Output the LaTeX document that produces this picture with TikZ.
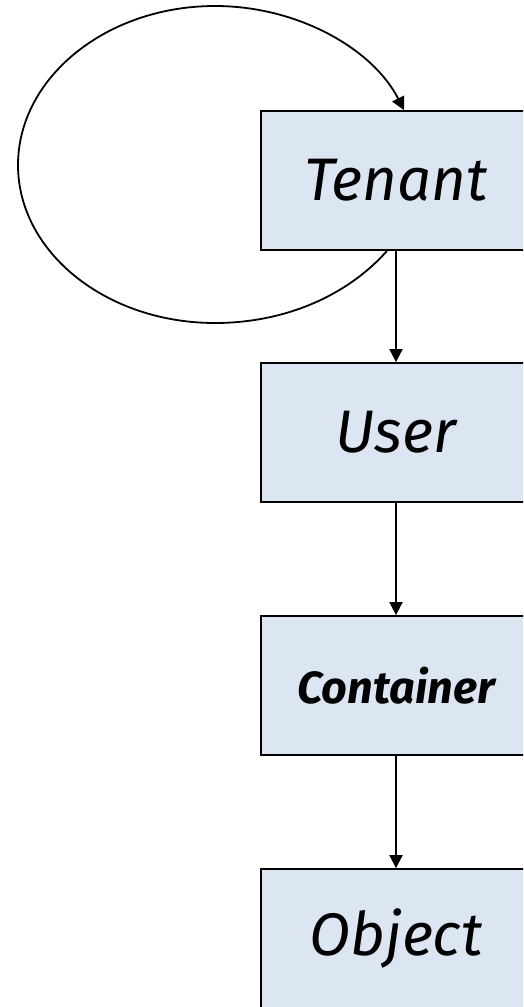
\documentclass[tikz,border=0pt]{standalone}
\usepackage{fontspec}
\setmainfont{Fira Sans}
\usetikzlibrary{arrows.meta}
\definecolor{boxfill}{HTML}{DCE6F2}
\tikzset{
  entity/.style={draw=black, line width=1.8pt, fill=boxfill, minimum width=270pt, minimum height=139pt, inner sep=0pt, font=\fontsize{60}{62}\selectfont\itshape},
  link/.style={line width=1.8pt, -{Triangle[width=13pt,length=13pt]}}
}
\begin{document}
\begin{tikzpicture}[x=1pt,y=1pt]
\useasboundingbox (0,0) rectangle (523,-1007);
\begin{scope}
\clip (0,0) rectangle (523,-1007);
\node[entity] (tenant) at (396,-180.5) {Tenant};
\node[entity] (user) at (396,-432.5) {User};
\node[entity, font=\fontsize{45}{48}\selectfont\bfseries\itshape] (container) at (396,-685.5) {Container};
\node[entity] (object) at (396,-938.5) {Object};
\draw[link] (tenant) -- (user);
\draw[link] (user) -- (container);
\draw[link] (container) -- (object);
\draw[link] ([xshift=-9pt]tenant.south) .. controls (346,-297) and (283,-323) .. (215,-323)
  .. controls (106,-323) and (18,-252) .. (18,-165)
  .. controls (18,-78) and (106,-6) .. (215,-6)
  .. controls (298,-6) and (373,-49) .. ([xshift=8pt]tenant.north);
\end{scope}
\end{tikzpicture}
\end{document}
